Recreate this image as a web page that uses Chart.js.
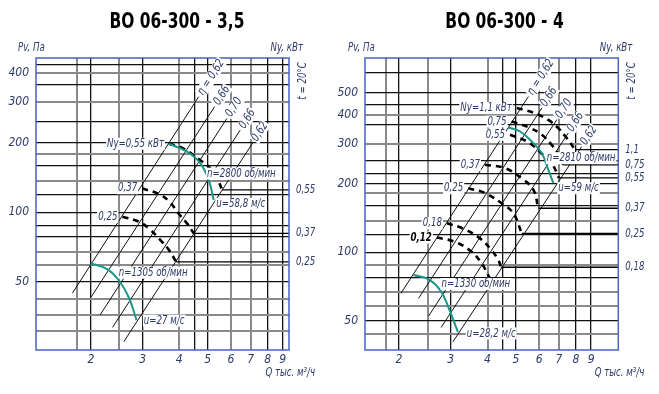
<!DOCTYPE html>
<html>
<head>
<meta charset="utf-8">
<script src="https://cdn.jsdelivr.net/npm/chart.js@4.4.1/dist/chart.umd.min.js"></script>
<style>
    html, body { margin: 0; padding: 0; background: #fff; }
    #wrap { position: relative; width: 659px; height: 394px; }
    .box { position: absolute; top: 0; height: 394px; }
</style>
</head>
<body>
<div id="wrap">
    <div class="box" style="left:0;width:330px"><canvas id="chartA" width="330" height="394"></canvas></div>
    <div class="box" style="left:330px;width:329px"><canvas id="chartB" width="329" height="394"></canvas></div>
</div>
<script>
// Common Q grid (тыс. м3/ч)
const qLabels = [2, 3, 4, 5, 6, 7, 8, 9];
const qGrid = [1.8, 2, 2.5, 3, 4, 4.5, 5, 6, 7, 8, 9];
const qGridGray = [1.8, 2.5, 4, 6, 7];
const etaNames = ['η = 0,62', '0,66', '0,70', '0,66', '0,62'];

// ВО 06-300 - 3,5
const a_pLabels = [50, 100, 200, 300, 400];
const a_pGrid = [30.6, 36, 42, 50, 59.2, 67, 78.5, 87.6, 100, 119, 137, 159, 179, 200, 248, 300, 356, 400, 434];
const a_pGridGray = [30.6, 36, 42, 59.2, 67, 137, 179, 300, 400];
const a_etaQ = [[1.73, 4.66], [2.0, 5.28], [2.15, 5.81], [2.37, 6.45], [2.59, 7.12]];
const a_etaP = [[44.6, 317], [42.8, 287], [35.9, 255], [31.7, 227], [27.5, 200]];
const a_nyNames = ['Ny=0,55 кВт', '0,37', '0,25'];
const a_nyRight = ['0,55', '0,37', '0,25'];
const a_nyQ = [[3.69, 4.09, 4.72, 5.10, 5.44, 5.60], [2.99, 3.45, 3.73, 3.97, 4.25, 4.48], [2.56, 2.92, 3.19, 3.45, 3.69, 3.90]];
const a_nyP = [[198, 190, 168, 155, 136, 125], [127, 119, 110, 99, 89.5, 81], [95.6, 91, 83.8, 75.8, 68.6, 61]];
const a_fastQ = [3.69, 4.25, 4.72, 5.04, 5.24];
const a_fastP = [198, 183, 163, 138, 113];
const a_slowQ = [2.0, 2.28, 2.51, 2.70, 2.86];
const a_slowP = [60, 56.6, 50, 42.4, 34.1];
const a_notes = ['n=2800 об/мин', 'u=58,8 м/с', 'n=1305 об/мин', 'u=27 м/с'];

// ВО 06-300 - 4
const b_pLabels = [50, 100, 200, 300, 400, 500];
const b_pGrid = [43.7, 50, 58.2, 67.1, 77.6, 88, 100, 120, 137.5, 160, 182, 200, 222, 252, 300, 363, 400, 444, 500, 616];
const b_pGridGray = [43.7, 58.2, 67.1, 88, 137.5, 182, 300, 400];
const b_etaQ = [[2.03, 5.51], [2.33, 6.12], [2.52, 6.88], [2.78, 7.53], [3.05, 8.36]];
const b_etaP = [[66, 483], [62.7, 430], [52.4, 382], [46.7, 334], [40.4, 291]];
const b_nyNames = ['Ny=1,1 кВт', '0,75', '0,55', '0,37', '0,25', '0,18', '0,12'];
const b_nyRight = ['1,1', '0,75', '0,55', '0,37', '0,25', '0,18', ''];
const b_nyQ = [[5.03, 5.80, 6.44, 6.96, 7.44, 7.94], [4.83, 5.51, 6.12, 6.61, 7.06, 7.24], [4.77, 5.49, 6.08, 6.61, 7.00],
    [3.92, 4.59, 5.23, 5.73, 5.95], [3.44, 3.92, 4.47, 4.90, 5.23], [2.91, 3.31, 3.77, 4.13, 4.35, 4.45], [2.69, 3.10, 3.53, 3.82, 4.02, 4.13]];
const b_nyP = [[430, 408, 381, 351, 317, 282], [375, 354, 328, 296, 263, 242], [328, 305, 273, 246, 212],
    [242, 234, 211, 188, 156], [191, 182, 164, 148, 121], [134, 127, 115, 102, 92.5, 85.9], [116, 111, 100.5, 89.4, 79.4, 74.2]];
const b_fastQ = [4.71, 5.16, 5.66, 6.12, 6.44, 6.70];
const b_fastP = [353, 339, 306, 272, 230, 201];
const b_slowQ = [2.24, 2.52, 2.76, 2.94, 3.17];
const b_slowP = [79.4, 76, 68.2, 57.6, 44.7];
const b_notes = ['n=2810 об/мин', 'u=59 м/с', 'n=1330 об/мин', 'u=28,2 м/с'];

const FONT = '"DejaVu Sans Condensed", "Liberation Sans Narrow", sans-serif';
const INK = '#2d3b68';
const TEAL = '#17978a';

function pts(q, p) {
    return q.map((v, i) => ({ x: v, y: p[i] }));
}

// narrow drafting-style text: squeeze horizontally
function drawText(ctx, text, px, py, align, opts = {}) {
    const sx = opts.sx || 0.8;
    ctx.font = opts.font || 'italic 12px ' + FONT;
    const w = ctx.measureText(text).width * sx;
    const x0 = align === 'right' ? px - w : align === 'center' ? px - w / 2 : px;
    if (opts.bg) {
        ctx.fillStyle = '#fff';
        ctx.fillRect(x0 - 1, py - 6, w + 2, 12);
    }
    ctx.save();
    ctx.translate(x0, py);
    ctx.scale(sx, 1);
    ctx.fillStyle = opts.color || INK;
    ctx.textAlign = 'left';
    ctx.textBaseline = 'middle';
    ctx.fillText(text, 0, 0);
    ctx.restore();
}

function buildChart(id, c) {
    const datasets = [];
    // teal curves on top
    datasets.push({ data: pts(c.fastQ, c.fastP), borderColor: TEAL, borderWidth: 2, tension: 0.4 });
    datasets.push({ data: pts(c.slowQ, c.slowP), borderColor: TEAL, borderWidth: 2, tension: 0.4 });
    // power curves + leaders to the right axis
    c.nyQ.forEach((q, i) => {
        const d = pts(q, c.nyP[i]);
        datasets.push({ data: d, borderColor: '#000', borderWidth: 2.6, borderDash: [6, 5], tension: 0.4 });
        if (c.nyRight[i]) {
            const end = d[d.length - 1];
            datasets.push({ data: [end, { x: c.qMax, y: end.y }], borderColor: '#000', borderWidth: 1.3 });
        }
    });
    // efficiency lines
    c.etaQ.forEach((q, i) => {
        datasets.push({ data: pts(q, c.etaP[i]), borderColor: '#111', borderWidth: 1 });
    });
    datasets.forEach(d => { d.showLine = true; d.pointRadius = 0; });

    const overlay = {
        id: 'overlay' + id,
        afterDatasetsDraw(chart) {
            const { ctx, chartArea: a, scales: { x, y } } = chart;
            ctx.save();
            // frame
            ctx.strokeStyle = '#4664c4';
            ctx.lineWidth = 1.5;
            ctx.strokeRect(a.left, a.top, a.right - a.left, a.bottom - a.top);

            // eta labels along the lines
            c.etaQ.forEach((q, i) => {
                const bx = x.getPixelForValue(q[0]), by = y.getPixelForValue(c.etaP[i][0]);
                const tx = x.getPixelForValue(q[1]), ty = y.getPixelForValue(c.etaP[i][1]);
                const ang = Math.atan2(ty - by, tx - bx);
                ctx.save();
                ctx.translate(tx, ty);
                ctx.rotate(ang);
                drawText(ctx, etaNames[i], 3, 0, 'left', { bg: true, sx: 0.85 });
                ctx.restore();
            });

            // power curve names
            c.nyQ.forEach((q, i) => {
                const px = x.getPixelForValue(q[0]) - 5;
                const py = y.getPixelForValue(c.nyP[i][0]);
                const bold = i === c.boldName;
                drawText(ctx, c.nyNames[i], px, py, 'right', {
                    bg: true,
                    color: bold ? '#000' : INK,
                    font: bold ? 'italic bold 12px ' + FONT : undefined
                });
                if (c.nyRight[i]) {
                    const last = c.nyP[i][c.nyP[i].length - 1];
                    drawText(ctx, c.nyRight[i], a.right + 7, y.getPixelForValue(last), 'left');
                }
            });

            // speed / velocity notes
            c.notes.forEach((t, i) => {
                const at = c.notesAt[i];
                drawText(ctx, t, x.getPixelForValue(at[0]), y.getPixelForValue(at[1]), 'left', { bg: true });
            });

            // titles
            drawText(ctx, c.title, c.titleX, 22, 'center', { font: 'bold 22px ' + FONT, color: '#000', sx: 0.78 });
            drawText(ctx, 'Pv, Па', 18, 48, 'left');
            drawText(ctx, 'Ny, кВт', a.right + 14, 48, 'right');
            drawText(ctx, 'Q тыс. м³/ч', a.right + 26, 373, 'right');
            ctx.save();
            ctx.translate(a.right + 14, 81);
            ctx.rotate(-Math.PI / 2);
            drawText(ctx, 't = 20°C', 0, 0, 'center');
            ctx.restore();
            ctx.restore();
        }
    };

    const tickFont = { family: FONT, size: 12, style: 'italic' };

    return new Chart(document.getElementById(id).getContext('2d'), {
        type: 'scatter',
        data: { datasets },
        options: {
            responsive: false,
            animation: false,
            events: [],
            layout: { padding: { left: 0, top: c.top, right: c.padRight, bottom: 0 } },
            plugins: { legend: { display: false }, tooltip: { enabled: false } },
            scales: {
                x: {
                    type: 'logarithmic',
                    min: c.qMin,
                    max: c.qMax,
                    afterBuildTicks: s => { s.ticks = qGrid.map(v => ({ value: v })); },
                    afterFit: s => { s.height = 394 - c.bottom; },
                    ticks: {
                        autoSkip: false, maxRotation: 0, padding: 3, color: INK, font: tickFont,
                        callback: v => qLabels.includes(v) ? String(v) : ''
                    },
                    grid: {
                        drawTicks: false,
                        color: ctx => qGridGray.includes(ctx.tick.value) ? '#8a8a8a' : '#111',
                        lineWidth: ctx => qGridGray.includes(ctx.tick.value) ? 2 : 1.3
                    },
                    border: { display: false }
                },
                y: {
                    type: 'logarithmic',
                    min: c.pMin,
                    max: c.pMax,
                    afterBuildTicks: s => { s.ticks = c.pGrid.map(v => ({ value: v })); },
                    afterFit: s => { s.width = c.left; },
                    ticks: {
                        autoSkip: false, padding: 7, color: INK, font: tickFont,
                        callback: v => c.pLabels.includes(v) ? String(v) : ''
                    },
                    grid: {
                        drawTicks: false,
                        color: ctx => c.pGridGray.includes(ctx.tick.value) ? '#8a8a8a' : '#111',
                        lineWidth: ctx => c.pGridGray.includes(ctx.tick.value) ? 2 : 1.3
                    },
                    border: { display: false }
                }
            }
        },
        plugins: [overlay]
    });
}

buildChart('chartA', {
    title: 'ВО 06-300 - 3,5', titleX: 177,
    left: 36, top: 58, bottom: 350, padRight: 330 - 289,
    qMin: 1.31, qMax: 9.46, pMin: 25.3, pMax: 466,
    pGrid: a_pGrid, pGridGray: a_pGridGray, pLabels: a_pLabels,
    etaQ: a_etaQ, etaP: a_etaP,
    nyNames: a_nyNames, nyRight: a_nyRight, nyQ: a_nyQ, nyP: a_nyP, boldName: -1,
    fastQ: a_fastQ, fastP: a_fastP, slowQ: a_slowQ, slowP: a_slowP,
    notes: a_notes, notesAt: [[4.97, 147], [5.35, 108.6], [2.49, 54.7], [3.03, 33.9]]
});

buildChart('chartB', {
    title: 'ВО 06-300 - 4', titleX: 174.5,
    left: 35, top: 58, bottom: 350, padRight: 329 - 288.3,
    qMin: 1.532, qMax: 11.14, pMin: 37.2, pMax: 713,
    pGrid: b_pGrid, pGridGray: b_pGridGray, pLabels: b_pLabels,
    etaQ: b_etaQ, etaP: b_etaP,
    nyNames: b_nyNames, nyRight: b_nyRight, nyQ: b_nyQ, nyP: b_nyP, boldName: 6,
    fastQ: b_fastQ, fastP: b_fastP, slowQ: b_slowQ, slowP: b_slowP,
    notes: b_notes, notesAt: [[6.36, 259], [6.96, 191], [2.79, 72.5], [3.40, 44.0]]
});
</script>
</body>
</html>
